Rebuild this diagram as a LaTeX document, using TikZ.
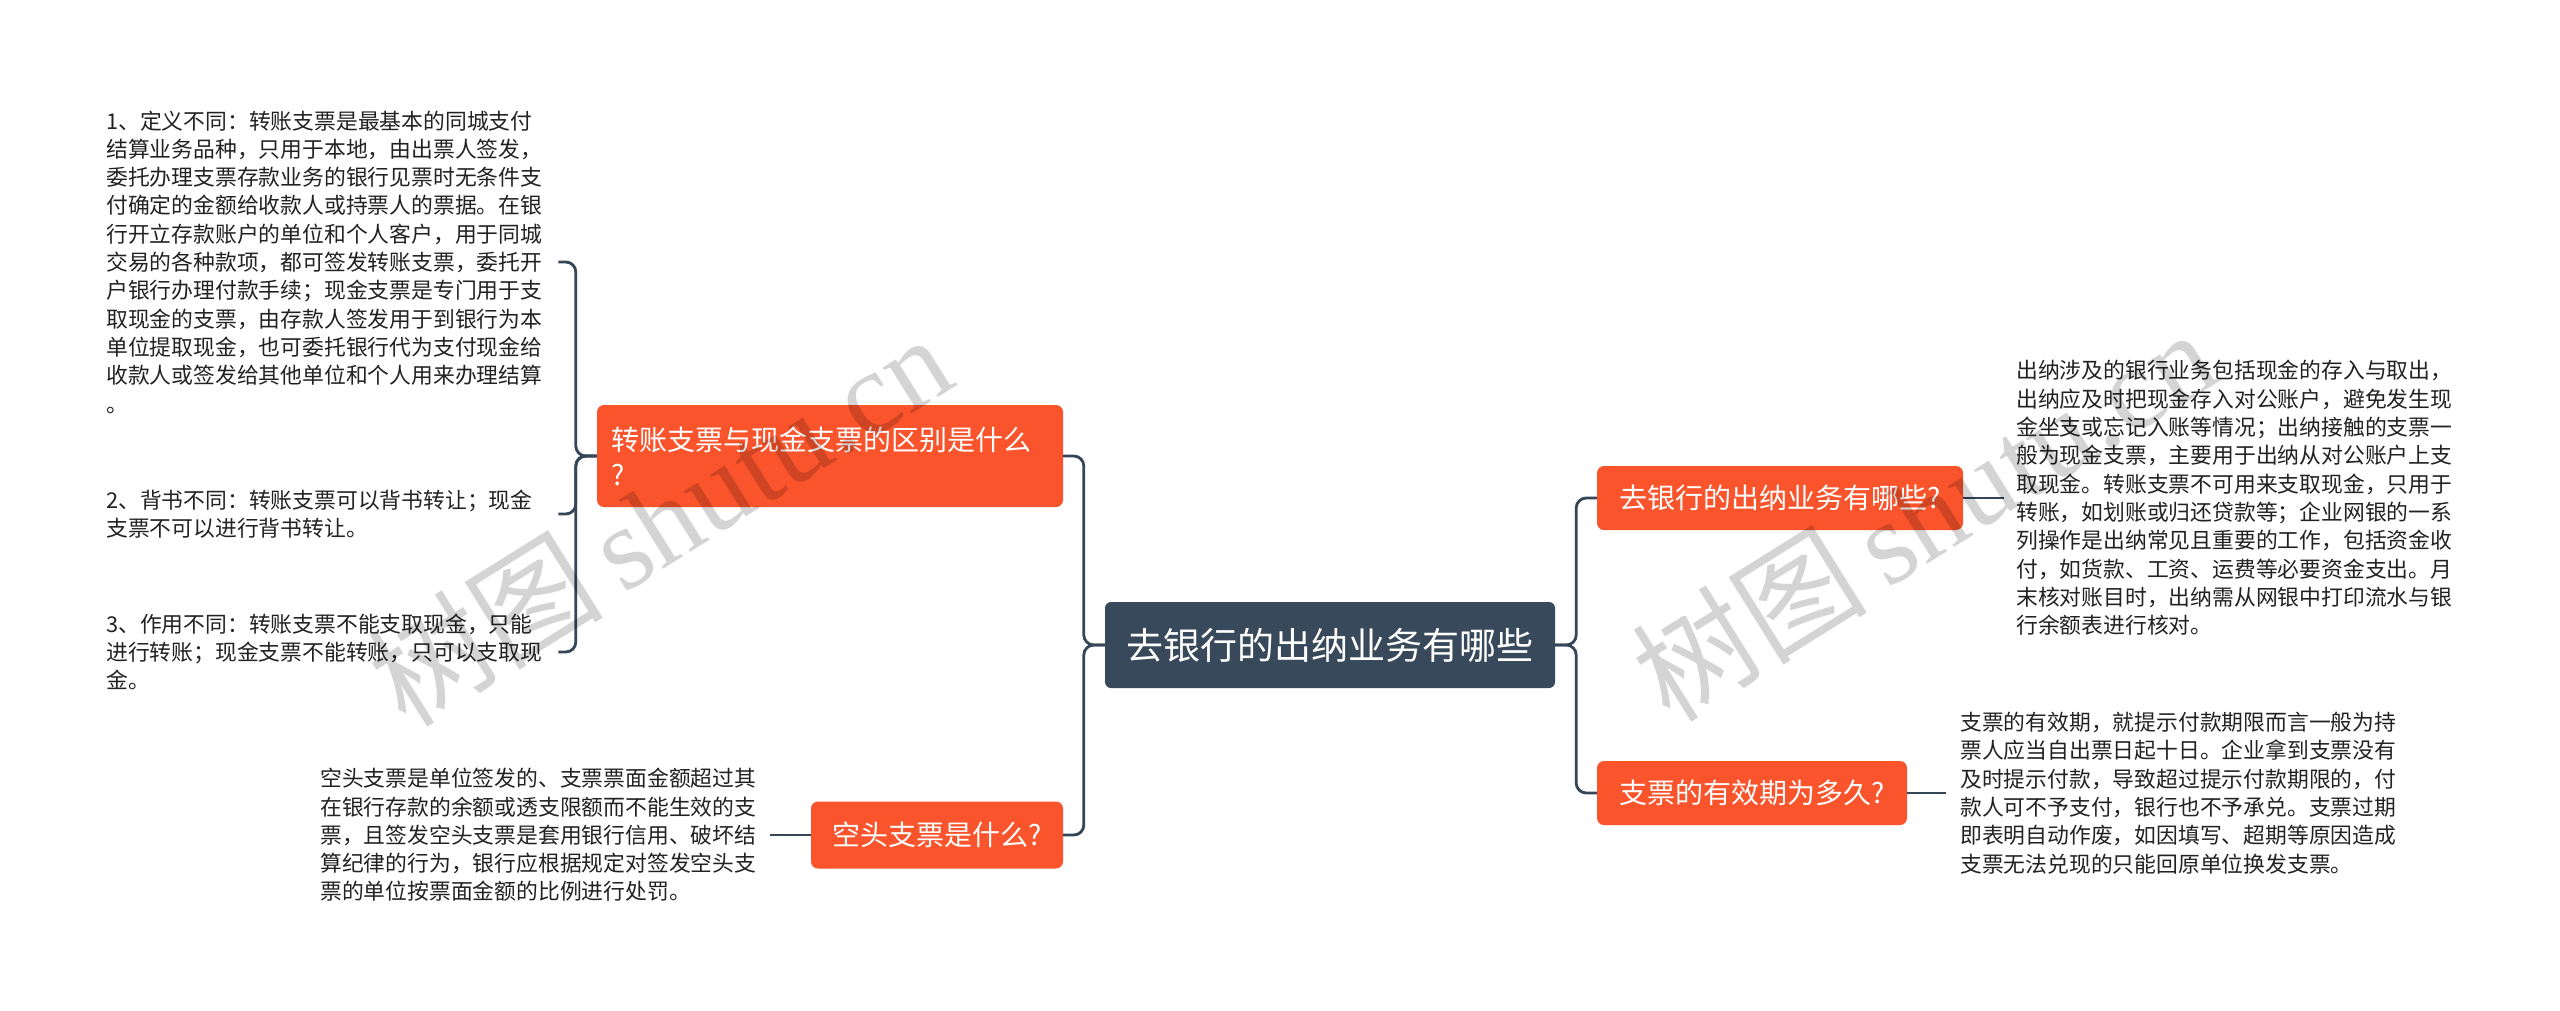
\documentclass[tikz,border=0pt]{standalone}
\usepackage{fontspec}
\setmainfont{Noto Sans CJK SC}
\newfontfamily\wmlatin{Liberation Serif}
\newfontfamily\wmcjk{Noto Sans CJK SC}
\definecolor{linec}{RGB}{52,70,88}
\definecolor{rootc}{RGB}{55,73,90}
\definecolor{orangec}{RGB}{250,84,44}
\definecolor{textc}{RGB}{34,34,34}
\begin{document}
\begin{tikzpicture}[x=1pt,y=-1pt,
  conn/.style={draw=linec, line width=2.8pt, rounded corners=10pt},
  topic/.style={fill=orangec, text=white, rounded corners=7pt, inner sep=0pt,
    font=\fontsize{28}{35}\selectfont},
  leaf/.style={text=textc, align=left, text width=440pt, inner xsep=12pt, inner ysep=0pt,
    font=\fontsize{21.8}{28.3}\selectfont},
  wmark/.style={text=black, text opacity=0.17, rotate=32, inner sep=0pt}]
\useasboundingbox (0,0) rectangle (2560,1010);
\fill[white] (0,0) rectangle (2560,1010);

% root
\node[fill=rootc, text=white, rounded corners=6pt, minimum width=450pt, minimum height=86pt,
  inner sep=0pt, font=\fontsize{37}{44}\selectfont] (root) at (1330,645) {去银行的出纳业务有哪些};

% main topics
\node[topic, minimum height=102pt, text width=438pt, inner xsep=14pt, align=left] (b1) at (830,456)
  {转账支票与现金支票的区别是什么\\?};
\node[topic, minimum width=252pt, minimum height=67pt] (b2) at (937,835) {空头支票是什么?};
\node[topic, minimum width=366pt, minimum height=64pt] (b3) at (1780,498) {去银行的出纳业务有哪些?};
\node[topic, minimum width=310pt, minimum height=64pt] (b4) at (1752,793) {支票的有效期为多久?};

% leaves
\node[leaf, anchor=west] (t1) at (94,262) {1、定义不同：转账支票是最基本的同城支付\\
结算业务品种，只用于本地，由出票人签发，\\
委托办理支票存款业务的银行见票时无条件支\\
付确定的金额给收款人或持票人的票据。在银\\
行开立存款账户的单位和个人客户，用于同城\\
交易的各种款项，都可签发转账支票，委托开\\
户银行办理付款手续；现金支票是专门用于支\\
取现金的支票，由存款人签发用于到银行为本\\
单位提取现金，也可委托银行代为支付现金给\\
收款人或签发给其他单位和个人用来办理结算\\
。};
\node[leaf, anchor=west] (t2) at (94,514) {2、背书不同：转账支票可以背书转让；现金\\
支票不可以进行背书转让。};
\node[leaf, anchor=west] (t3) at (94,652) {3、作用不同：转账支票不能支取现金，只能\\
进行转账；现金支票不能转账，只可以支取现\\
金。};
\node[leaf, anchor=west, inner xsep=10pt] (t4) at (310,835) {空头支票是单位签发的、支票票面金额超过其\\
在银行存款的余额或透支限额而不能生效的支\\
票，且签发空头支票是套用银行信用、破坏结\\
算纪律的行为，银行应根据规定对签发空头支\\
票的单位按票面金额的比例进行处罚。};
\node[leaf, anchor=west] (t5) at (2004,498) {出纳涉及的银行业务包括现金的存入与取出，\\
出纳应及时把现金存入对公账户，避免发生现\\
金坐支或忘记入账等情况；出纳接触的支票一\\
般为现金支票，主要用于出纳从对公账户上支\\
取现金。转账支票不可用来支取现金，只用于\\
转账，如划账或归还贷款等；企业网银的一系\\
列操作是出纳常见且重要的工作，包括资金收\\
付，如货款、工资、运费等必要资金支出。月\\
末核对账目时，出纳需从网银中打印流水与银\\
行余额表进行核对。};
\node[leaf, anchor=west, inner xsep=14pt] (t6) at (1946,793) {支票的有效期，就提示付款期限而言一般为持\\
票人应当自出票日起十日。企业拿到支票没有\\
及时提示付款，导致超过提示付款期限的，付\\
款人可不予支付，银行也不予承兑。支票过期\\
即表明自动作废，如因填写、超期等原因造成\\
支票无法兑现的只能回原单位换发支票。};

% connectors
\draw[conn] (root.west) -- ([xshift=-21pt]root.west) |- (b1.east);
\draw[conn] (root.west) -- ([xshift=-21pt]root.west) |- (b2.east);
\draw[conn] (root.east) -- ([xshift=21pt]root.east) |- (b3.west);
\draw[conn] (root.east) -- ([xshift=21pt]root.east) |- (b4.west);
\draw[conn] (b1.west) -- ([xshift=-21pt]b1.west) |- (t1.east);
\draw[conn] (b1.west) -- ([xshift=-21pt]b1.west) |- (t2.east);
\draw[conn] (b1.west) -- ([xshift=-21pt]b1.west) |- (t3.east);
\draw[conn] (b2.west) -- (t4.east |- b2.west);
\draw[conn] (b3.east) -- (t5.west |- b3.east);
\draw[conn] (b4.east) -- (t6.west |- b4.east);

% watermarks
\node[wmark] (wm1) at (659,519) {\fontsize{118}{128}\selectfont\wmcjk 树图\,\wmlatin shutu.cn};
\node[wmark] (wm2) at (1923,514) {\fontsize{118}{128}\selectfont\wmcjk 树图\,\wmlatin shutu.cn};
\end{tikzpicture}
\end{document}
